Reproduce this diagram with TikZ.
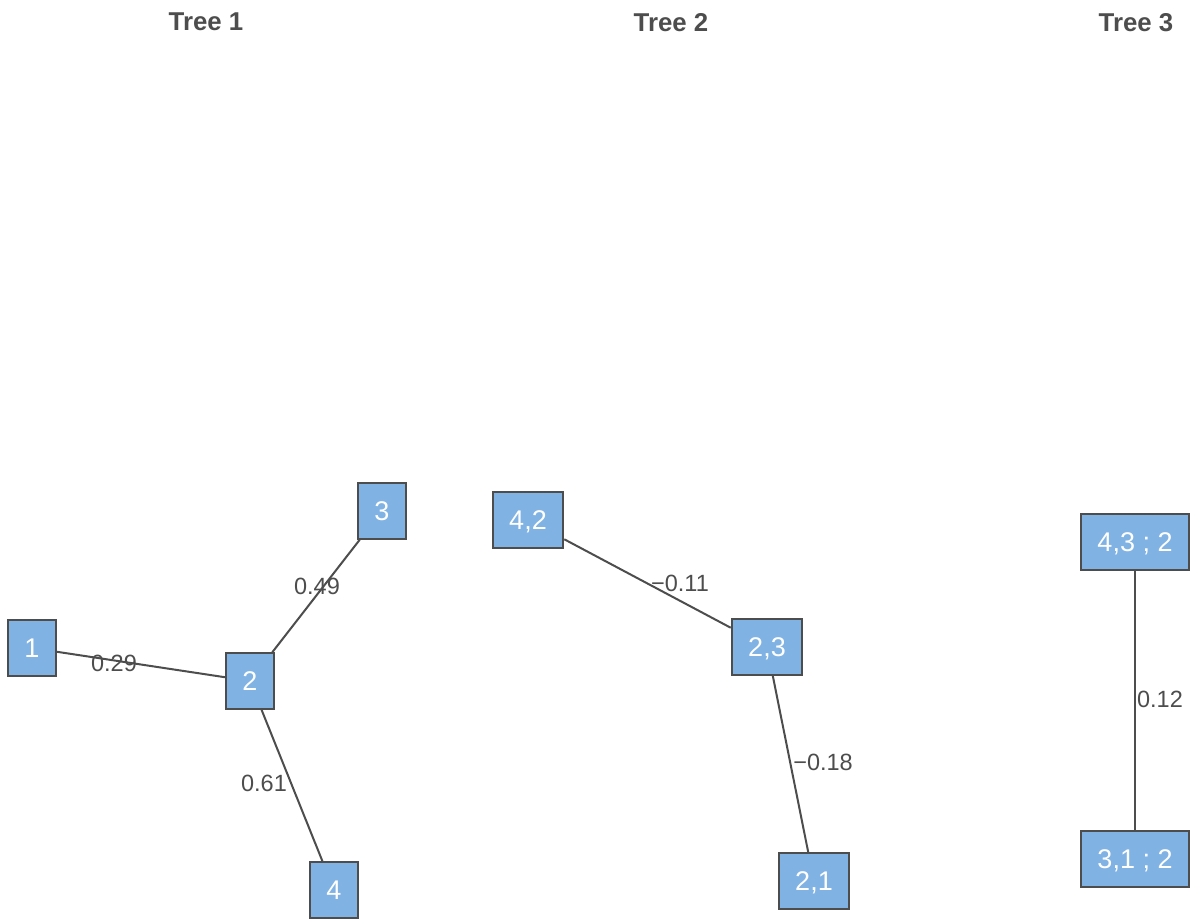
\documentclass[tikz,border=0pt]{standalone}
\usepackage{fontspec}
\setmainfont{Liberation Sans}
\definecolor{vfill}{RGB}{128,179,227}
\definecolor{darkgray}{RGB}{77,77,77}

\begin{document}
\begin{tikzpicture}[x=1pt, y=-1pt,
  vertex/.style={draw=darkgray, line width=2pt, fill=vfill, text=white,
    minimum height=55.5pt, inner xsep=16.5pt, text depth=0pt,
    font=\fontsize{27}{27}\selectfont},
  weight/.style={text=darkgray, inner sep=0pt, text depth=0pt,
    font=\fontsize{23.5}{23.5}\selectfont},
  heading/.style={text=darkgray, inner sep=0pt, text depth=0pt,
    font=\bfseries\fontsize{25.8}{25.8}\selectfont},
  link/.style={draw=darkgray, line width=2pt}]
 \useasboundingbox (0,0) rectangle (1190,919);

 \node[heading] (t1) at (206, 22) {Tree 1};
 \node[heading] (t2) at (671, 22) {Tree 2};
 \node[heading] (t3) at (1136, 22) {Tree 3};

 % tree 1
 \node[vertex] (1) at (32 , 648) {1};
 \node[vertex] (2) at (250, 681) {2};
 \node[vertex] (3) at (382, 511) {3};
 \node[vertex] (4) at (334, 890) {4};

 \draw[link] (1) to (2);
 \draw[link] (2) to (3);
 \draw[link] (2) to (4);

 \node[weight] (w12) at (114, 663) {0.29};
 \node[weight] (w23) at (317, 586) {0.49};
 \node[weight] (w24) at (264, 783) {0.61};

 % tree 2
 \node[vertex] (42) at (528, 520) {4,2};
 \node[vertex] (23) at (767, 647) {2,3};
 \node[vertex] (21) at (814, 881) {2,1};

 \draw[link] (42) to (23);
 \draw[link] (23) to (21);

 \node[weight] (w4223) at (680, 583) {−0.11};
 \node[weight] (w2321) at (823, 762) {−0.18};

 % tree 3
 \node[vertex] (432) at (1135, 542) {4,3 ; 2};
 \node[vertex] (312) at (1135, 859) {3,1 ; 2};

 \draw[link] (432) to (312);

 \node[weight] (w432312) at (1160, 699) {0.12};
\end{tikzpicture}
\end{document}
